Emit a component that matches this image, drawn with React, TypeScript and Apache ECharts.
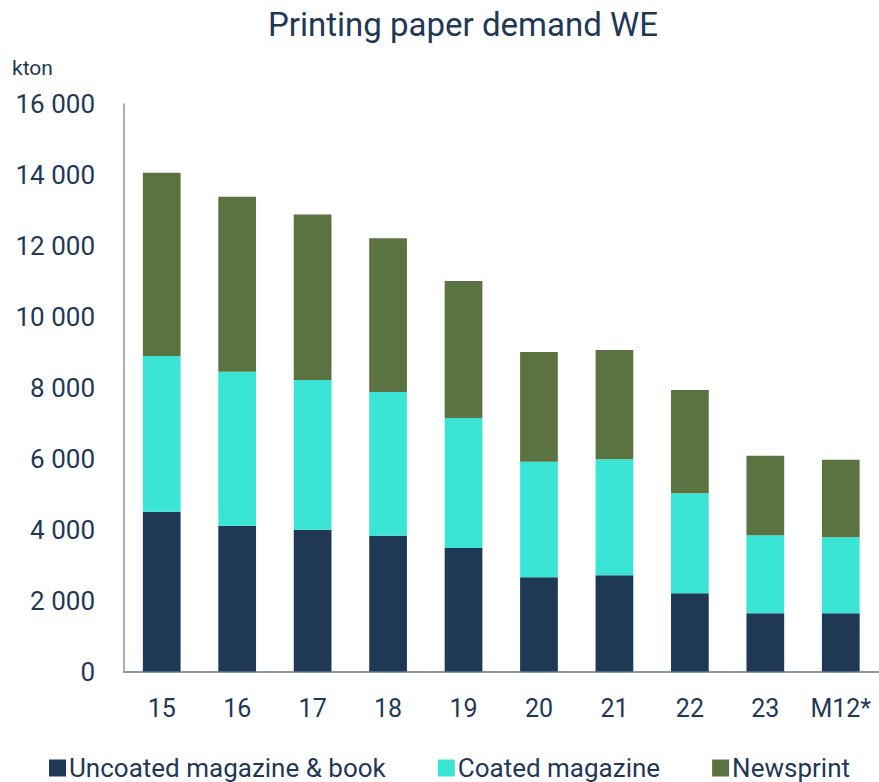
import React, { useEffect, useRef } from "react";
import * as echarts from "echarts";

const categories = ["15", "16", "17", "18", "19", "20", "21", "22", "23", "M12*"];
const uncoated = [4505, 4110, 3997, 3828, 3481, 2655, 2712, 2204, 1641, 1641];
const coated = [4389, 4341, 4220, 4051, 3665, 3259, 3270, 2819, 2198, 2142];
const newsprint = [5167, 4934, 4671, 4333, 3862, 3093, 3081, 2912, 2244, 2188];
const yTicks = [0, 2000, 4000, 6000, 8000, 10000, 12000, 14000, 16000];

const FONT = "'Roboto', sans-serif";
const TEXT = "#1F3856";

export default function App() {
  const ref = useRef<HTMLDivElement>(null);
  useEffect(() => {
    if (!ref.current) return;
    const chart = echarts.init(ref.current, undefined, { renderer: "svg" });
    const fmt = (v: number) => {
      const s = String(v);
      return s.length > 3 ? s.slice(0, s.length - 3) + " " + s.slice(-3) : s;
    };
    const mk = (name: string, data: number[], color: string) => ({
      name,
      type: "bar",
      stack: "total",
      data,
      barWidth: "50%",
      itemStyle: { color },
    });
    chart.setOption({
      animation: false,
      textStyle: { fontFamily: FONT, color: TEXT },
      title: {
        text: "Printing paper demand WE",
        left: 458,
        textAlign: "center",
        top: 3,
        textStyle: { fontFamily: FONT, fontSize: 33, fontWeight: "normal", color: TEXT },
      },
      graphic: [
        {
          type: "text",
          left: 12,
          top: 57,
          style: { text: "kton", fontFamily: FONT, fontSize: 21, fill: TEXT },
        },
      ],
      legend: {
        bottom: -4,
        left: 44,
        itemWidth: 17,
        itemHeight: 17,
        itemGap: 52,
        icon: "rect",
        textStyle: { fontFamily: FONT, fontSize: 26, color: TEXT, padding: [0, 0, 0, -2] },
        data: ["Uncoated magazine & book", "Coated magazine", "Newsprint"],
      },
      grid: { left: 124, right: 0.5, top: 104, bottom: 110.5, containLabel: false },
      xAxis: {
        type: "category",
        data: categories,
        axisLine: { lineStyle: { color: "#8C97A6", width: 2 } },
        axisTick: { show: false },
        axisLabel: { fontFamily: FONT, fontSize: 25, color: TEXT, margin: 24, interval: 0 },
      },
      yAxis: {
        type: "value",
        min: yTicks[0],
        max: yTicks[yTicks.length - 1],
        interval: 2000,
        axisLine: { show: true, lineStyle: { color: "#8C97A6", width: 1.5 } },
        axisTick: { show: false },
        splitLine: { show: false },
        axisLabel: { fontFamily: FONT, fontSize: 26, color: TEXT, margin: 29, formatter: fmt },
      },
      series: [
        mk("Uncoated magazine & book", uncoated, "#1F3856"),
        mk("Coated magazine", coated, "#3AE5D5"),
        mk("Newsprint", newsprint, "#5A7340"),
      ],
    });
    return () => chart.dispose();
  }, []);
  return <div ref={ref} style={{ width: 879, height: 782, position: "absolute", left: 0, top: 0 }} />;
}
